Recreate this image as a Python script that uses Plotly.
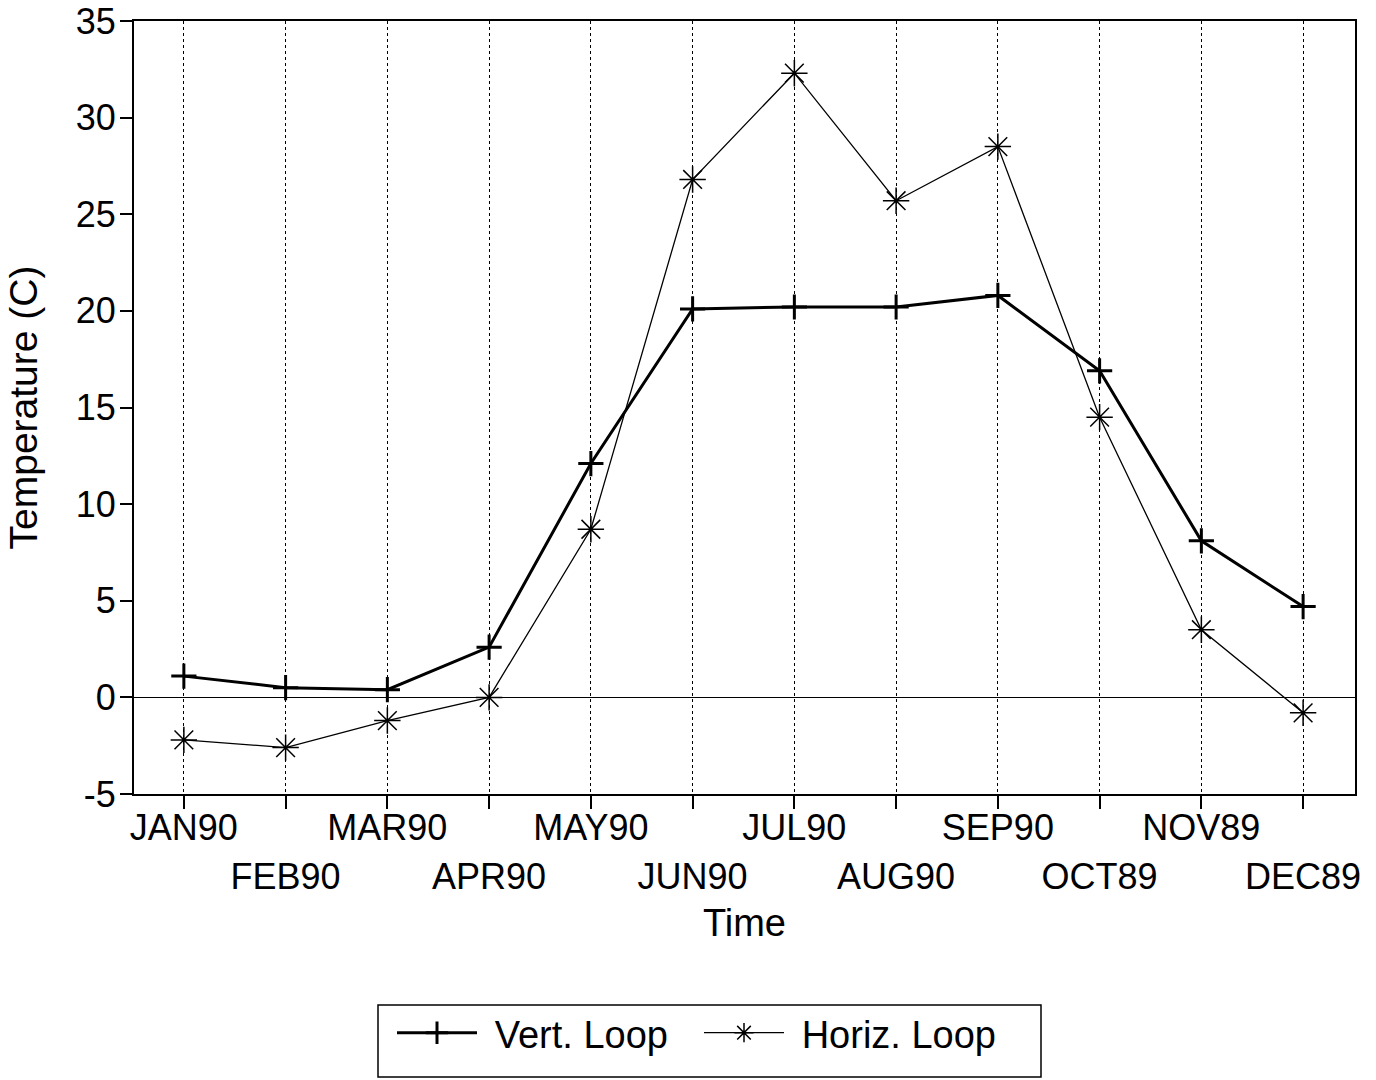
import plotly.graph_objects as go

months = ["JAN90", "FEB90", "MAR90", "APR90", "MAY90", "JUN90",
          "JUL90", "AUG90", "SEP90", "OCT89", "NOV89", "DEC89"]
vert_loop = [1.1, 0.5, 0.4, 2.6, 12.1, 20.1, 20.2, 20.2, 20.8, 16.9, 8.1, 4.7]
horiz_loop = [-2.2, -2.6, -1.2, 0.0, 8.7, 26.8, 32.3, 25.7, 28.5, 14.5, 3.5, -0.8]
y_ticks = [-5, 0, 5, 10, 15, 20, 25, 30, 35]
series_names = ["Vert. Loop", "Horiz. Loop"]

x = list(range(len(months)))
FONT = "Liberation Sans, Arial, sans-serif"
TICK = 36
TITLE = 38

W, H = 1376, 1080
ML, MT = 134, 21
PW, PH = 1221, 773
MR, MB = W - ML - PW, H - MT - PH


def px(xf):
    return (xf - ML) / PW


def py(yf):
    return (MT + PH - yf) / PH


fig = go.Figure()
fig.add_trace(go.Scatter(
    x=x, y=vert_loop, name="\u2004" + series_names[0], mode="lines+markers",
    line=dict(color="black", width=3),
    marker=dict(symbol="cross-thin", size=18, line=dict(color="black", width=3)),
))
fig.add_trace(go.Scatter(
    x=x, y=horiz_loop, name="\u2004" + series_names[1], mode="lines+markers",
    line=dict(color="black", width=1.3),
    marker=dict(symbol="asterisk-open", size=22, line=dict(color="black", width=1.5)),
))
# invisible traces hosting the two staggered rows of tick labels
for ax in ("x2", "x3"):
    fig.add_trace(go.Scatter(x=x, y=vert_loop, xaxis=ax, mode="none",
                             showlegend=False, hoverinfo="skip"))

row1 = [m if i % 2 == 0 else "" for i, m in enumerate(months)]
row2 = [m if i % 2 == 1 else "" for i, m in enumerate(months)]
xr = [-0.49, 11.51]

label_axis = dict(range=xr, overlaying="x", side="bottom", matches="x",
                  tickmode="array", tickvals=x, ticks="", showline=False,
                  showgrid=False, zeroline=False, automargin=False,
                  ticklabeloverflow="allow",
                  tickfont=dict(size=TICK, family=FONT))

fig.update_layout(
    width=W, height=H,
    paper_bgcolor="white", plot_bgcolor="white",
    margin=dict(l=ML, r=MR, t=MT, b=MB, autoexpand=False),
    font=dict(family=FONT, color="black", size=TICK),
    showlegend=True,
    xaxis=dict(
        range=xr, tickmode="array", tickvals=x, showticklabels=False,
        ticks="outside", ticklen=13, tickwidth=1.5, tickcolor="black",
        showline=True, linecolor="black", linewidth=2, mirror=True,
        showgrid=True, gridcolor="black", gridwidth=1.2, griddash="dot",
        zeroline=False, automargin=False,
        title=dict(text="Time", font=dict(size=TITLE, family=FONT), standoff=101),
    ),
    xaxis2=dict(label_axis, ticktext=row1, ticklabelstandoff=9),
    xaxis3=dict(label_axis, ticktext=row2, ticklabelstandoff=58),
    yaxis=dict(
        range=[-5, 35], tickmode="array", tickvals=y_ticks,
        ticktext=[str(v) for v in y_ticks],
        ticks="outside", ticklen=12, tickwidth=1.5, tickcolor="black",
        showline=True, linecolor="black", linewidth=2, mirror=True,
        showgrid=False, zeroline=True, zerolinecolor="black", zerolinewidth=1.2,
        automargin=False, ticklabeloverflow="allow", ticklabelstandoff=-3,
        tickfont=dict(size=TICK, family=FONT),
        title=dict(text="Temperature (C)", font=dict(size=39, family=FONT), standoff=26),
    ),
    legend=dict(
        orientation="h", x=px(392), xanchor="left", y=py(1033), yanchor="middle",
        font=dict(size=TITLE, family=FONT), bgcolor="rgba(0,0,0,0)",
        borderwidth=0, itemwidth=80, entrywidth=212,
    ),
    shapes=[dict(type="rect", xref="paper", yref="paper",
                 x0=px(378), x1=px(1041), y0=py(1077), y1=py(1005),
                 line=dict(color="black", width=1.5))],
)

# remove the page's default body margin so the figure fills the window exactly
fig.write_html("out.html",
               config={"displayModeBar": False},
               post_script="document.body.style.margin='0';"
                           "document.body.style.overflow='hidden';")
